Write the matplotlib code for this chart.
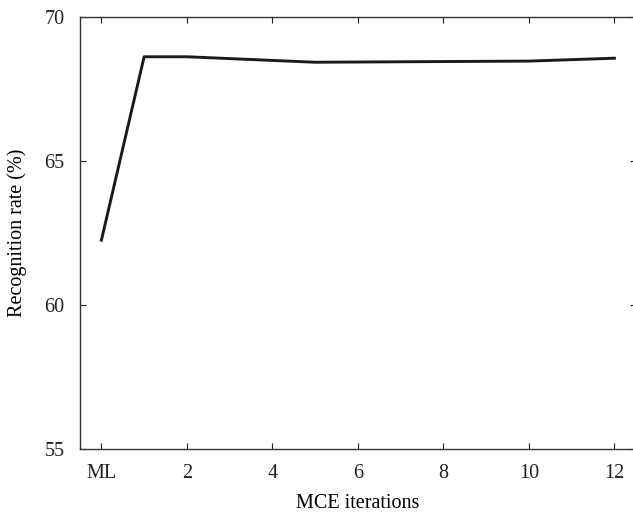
import matplotlib
matplotlib.use('Agg')
import matplotlib.pyplot as plt

# MCE training: recognition rate after each iteration (0 = ML baseline)
iterations = [0, 1, 2, 5, 10, 12]
recognition_rate = [62.25, 68.62, 68.62, 68.43, 68.47, 68.57]

tick_pos = [0, 2, 4, 6, 8, 10, 12]
tick_labels = ['ML', '2', '4', '6', '8', '10', '12']
y_ticks = [55, 60, 65, 70]

plt.rcParams['font.family'] = ['Liberation Serif', 'DejaVu Serif']
plt.rcParams['font.size'] = 14.5

fig = plt.figure(figsize=(6.33, 5.16), dpi=100)
ax = fig.add_axes([0.1264, 0.1298, 0.878, 0.8372])

ax.plot(iterations, recognition_rate, color='#1a1a1a', linewidth=2.1)

ax.set_xlim(-0.5, 12.5)
ax.set_ylim(55, 70)
ax.set_xticks(tick_pos)
ax.set_xticklabels(tick_labels)
ax.set_yticks(y_ticks)

ax.tick_params(direction='in', length=4, width=0.8, top=True, right=True,
               labelsize=14.5, pad=11, colors='#222222')
for s in ax.spines.values():
    s.set_linewidth(1.0)
    s.set_color('#333333')

ax.set_xlabel('MCE iterations', fontsize=14.5, labelpad=8)
ax.set_ylabel('Recognition rate (%)', fontsize=14.5, labelpad=13)

fig.savefig('out.png', dpi=100)
